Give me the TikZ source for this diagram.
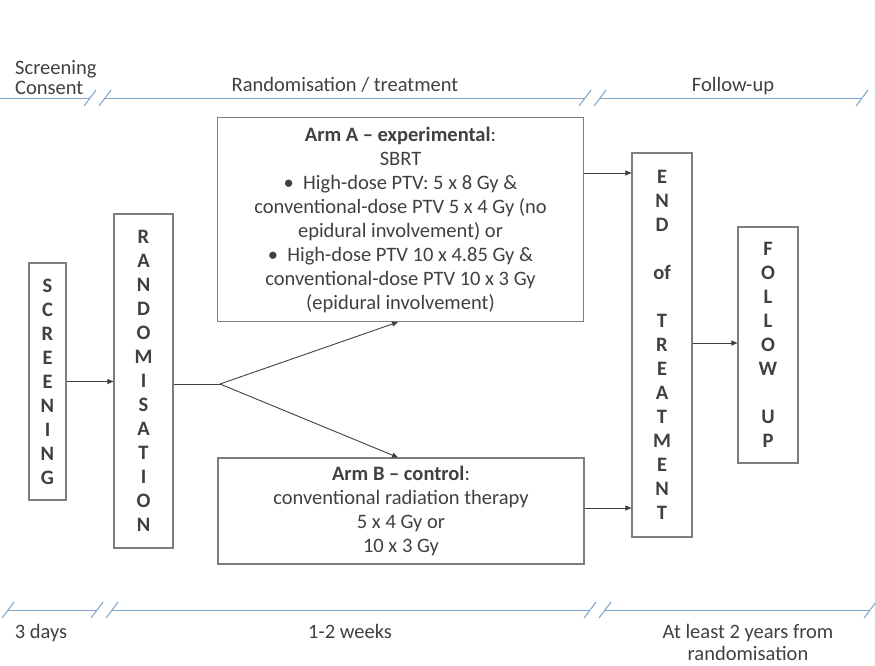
\documentclass[tikz,border=0pt]{standalone}
\usepackage{fontspec}
\setmainfont{Carlito}
\usetikzlibrary{arrows.meta}
\definecolor{tl}{RGB}{125,163,200}
\definecolor{txt}{RGB}{64,64,64}
\definecolor{bx}{RGB}{125,125,125}
\begin{document}
\begin{tikzpicture}[x=1pt,y=-1pt,
  box/.style={draw=bx, line width=1.1pt, inner sep=0pt, align=center, text=txt,
    font=\fontsize{20.5}{24}\selectfont},
  vbox/.style={box, font=\fontsize{20.5}{24}\selectfont\bfseries},
  arr/.style={draw=txt, line width=0.9pt, -{Triangle[length=6pt,width=5pt]}},
  tline/.style={draw=tl, line width=1pt},
  lab/.style={text=txt, inner sep=0pt, font=\fontsize{20.5}{23}\selectfont}]
\useasboundingbox (0,0) rectangle (875,665);

% timelines
\draw[tline] (0,98) -- (90,98);
\draw[tline] (105,98) -- (585,98);
\draw[tline] (600,98) -- (862,98);
\foreach \x in {90,105,585,600,862}
  \draw[tline] (\x-6,98+8) -- (\x+6,98-8);
\draw[tline] (8,610) -- (97,610);
\draw[tline] (112,610) -- (590,610);
\draw[tline] (605,610) -- (870,610);
\foreach \x in {8,97,112,590,605,870}
  \draw[tline] (\x-6,610+8) -- (\x+6,610-8);

% timeline labels (multi-line nodes: base = last line)
\node[lab, anchor=base west] (lscr1) at (15,74) {Screening};
\node[lab, anchor=base west] (lscr2) at (15,94) {Consent};
\node[lab, anchor=base] (lrand) at (345,91) {Randomisation / treatment};
\node[lab, anchor=base] (lfol) at (733,91) {Follow-up};
\node[lab, anchor=base] (l3d) at (41,638) {3 days};
\node[lab, anchor=base] (l12w) at (350,638) {1-2 weeks};
\node[lab, anchor=base, align=center, font=\fontsize{20.5}{22}\selectfont] (l2y) at (748,660) {At least 2 years from\\randomisation};

% boxes
\node[vbox, minimum width=37pt, minimum height=237pt] (scr) at (47.5,381.5)
  {S\\C\\R\\E\\E\\N\\I\\N\\G};
\node[vbox, minimum width=59pt, minimum height=334pt] (rand) at (143.5,381)
  {R\\A\\N\\D\\O\\M\\I\\S\\A\\T\\I\\O\\N};
\node[box, minimum width=366pt, minimum height=204pt] (armA) at (400.5,219.5)
  {\textbf{Arm A – experimental}:\\SBRT\\•\ \ High-dose PTV: 5 x 8 Gy \&\\conventional-dose PTV 5 x 4 Gy (no\\epidural involvement) or\\•\ \ High-dose PTV 10 x 4.85 Gy \&\\conventional-dose PTV 10 x 3 Gy\\(epidural involvement)};
\node[box, minimum width=366pt, minimum height=106pt] (armB) at (401,511)
  {\textbf{Arm B – control}:\\conventional radiation therapy\\5 x 4 Gy or\\10 x 3 Gy};
\node[vbox, minimum width=60pt, minimum height=384pt] (endt) at (662,345)
  {E\\N\\D\\[24pt]of\\[24pt]T\\R\\E\\A\\T\\M\\E\\N\\T};
\node[vbox, minimum width=60pt, minimum height=236pt] (fol) at (768,345)
  {F\\O\\L\\L\\O\\W\\[24pt]U\\P};

% connectors
\coordinate (fork) at (220,384);
\coordinate (fa) at (398,322);
\draw[arr] (scr.east) -- (scr.east -| rand.west);
\draw[draw=txt, line width=0.9pt] (rand.east |- fork) -- (fork);
\draw[arr] (fork) -- (armA.south -| fa);
\draw[arr] (fork) -- (armB.north -| fa);
\draw[arr] (armA.east |- 0,173) -- (endt.west |- 0,173);
\draw[arr] (armB.east |- 0,508) -- (endt.west |- 0,508);
\draw[arr] (endt.east |- 0,343) -- (fol.west |- 0,343);
\end{tikzpicture}
\end{document}
